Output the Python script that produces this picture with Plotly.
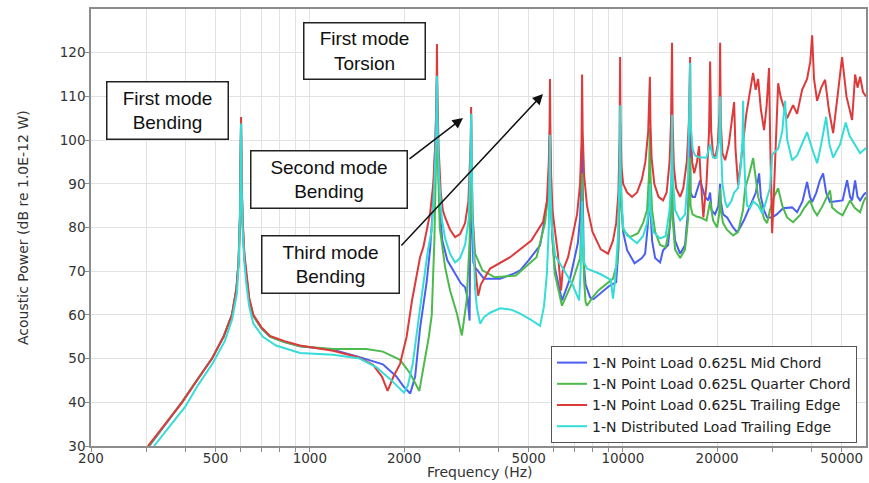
import math
import plotly.graph_objects as go

# ---------------- data ----------------
freq_mid = [307, 390, 435, 487, 530, 564, 583, 592, 598, 601, 603, 605.5, 610, 618, 626, 640, 660, 700, 746, 830, 931,
            1186, 1433, 1712, 1890, 1994, 2093, 2170, 2250, 2360, 2422, 2470, 2520, 2548, 2560, 2600, 2650, 2750, 2911, 3040, 3133, 3190, 3240, 3262, 3275, 3290, 3330, 3373,
            3600, 4054, 4500, 4698, 5000, 5440, 5640, 5780, 5830, 5850, 5870, 5950, 6060, 6390, 6780, 7180, 7300, 7370, 7410, 7440, 7500, 7600, 7860, 8060, 8500, 9000, 9520, 9680, 9760, 9800,
            9840, 10020, 10320, 10900, 11500, 11780, 12000, 12150, 12200, 12250, 12400, 12680, 13150, 13440, 13950, 14200, 14360,
            14420, 14680, 15240, 15800, 16160, 16400, 16450, 16700, 17000, 17660, 18300, 18720, 19000, 19200, 19700, 20200, 20450,
            20550, 20900, 21530, 22500, 23170, 23700, 24500, 25500, 26600, 27250, 27600, 28200, 28900, 29980, 31000, 32500, 34720, 36020, 37500, 38770, 39600, 40240,
            41500, 42600, 43620, 44600, 45900, 48000, 50350, 52040, 53200, 54000, 55200, 56200, 57270, 58800, 59800]
db_mid = [30, 40, 45, 50, 55, 60, 66, 72, 82, 92, 104, 91, 81, 73, 69.5, 63.5, 59.8, 57, 55, 53.8, 52.8,
          52, 50.4, 48.7, 45.9, 43.6, 42, 45.9, 57, 67.3, 75, 84, 100, 114.5, 100, 84, 77, 72.5, 69.5, 67.2, 66.3, 64, 58.7, 80, 106, 82, 72, 70.9,
          68.3, 68.3, 69.5, 70.2, 72.5, 75.9, 82.3, 88, 95, 101, 90, 78, 70.9, 63.3, 68.3, 76.4, 82, 90, 100, 86, 72, 67, 64, 63.6, 65, 66.5, 67.5, 75, 88, 104,
          88, 79, 74.8, 71.8, 73, 74, 80, 86, 91.6, 84, 77, 73, 72, 74.8, 76, 82, 95,
          84, 77, 74, 76, 84, 101.6, 88, 87, 87, 90.8, 87, 86.2, 88, 84, 83, 85, 90,
          86, 83, 82.3, 80, 78.9, 80, 82, 85, 88, 92.4, 87, 84, 82.3, 82.3, 83, 84.4, 84.6, 83.5, 86, 90.4, 87, 85.8,
          88, 90.8, 92.4, 88, 85.8, 86, 86.2, 90.8, 87, 86.2, 90.8, 87, 86.2, 87.5, 88]

freq_quarter = [306, 390, 435, 487, 530, 564, 583, 592, 598, 601, 603, 605.5, 610, 618, 626, 640, 660, 700, 746, 830, 931,
                1186, 1515, 1712, 1942, 2093, 2238, 2336, 2400, 2452, 2500, 2530, 2548, 2560, 2600, 2705, 2806, 2950, 3060, 3170, 3240, 3265, 3275, 3290, 3373,
                3560, 3900, 4550, 5300, 5640, 5780, 5830, 5850, 5870, 5950, 6060, 6390, 6870, 7300, 7370, 7410, 7450, 7520, 7600, 7680, 8000, 8350, 9300, 9600, 9720, 9780, 9800,
                9840, 10020, 10540, 11180, 11600, 11950, 12120, 12200, 12250, 12400, 12680, 13150, 13700, 14100, 14260, 14360,
                14420, 14680, 15240, 15800, 16160, 16400, 16450, 16700, 17200, 17660, 18500, 19000, 19420, 20000, 20300, 20450,
                20550, 20900, 21500, 22500, 23340, 24200, 24580, 25300, 26070, 26500, 27050, 27440, 28260, 28900, 29500, 30400, 31340, 32300, 33460, 34980, 36800, 38000, 39620,
                40700, 41740, 43500, 45900, 46600, 48500, 50350, 51800, 53200, 55000, 57270, 58800, 59800]
db_quarter = [30, 40, 45, 50, 55, 60, 66, 72, 82, 92, 104, 91, 81, 73, 69.5, 63.5, 59.8, 57, 55, 53.8, 52.8,
              52.2, 52.2, 51.6, 49.7, 46.6, 42.6, 50.3, 55, 60, 77, 95, 114.5, 98, 80, 70.9, 65.6, 60.3, 55.3, 63.3, 77, 92, 106, 85, 74,
              70.2, 68.6, 69, 73.2, 81, 88, 95, 101, 90, 78, 69.5, 62.1, 67.2, 73, 80, 92.4, 78, 68, 63, 62.1, 64, 65.6, 68.3, 72, 80, 92, 104,
              88, 79.4, 77.8, 78.7, 81, 84, 92, 102.8, 92, 84, 79, 76, 75.5, 80, 86, 94,
              82, 75, 73, 75, 82, 96, 85, 83, 82.5, 82.3, 81.6, 86, 81.6, 80, 83, 89,
              84, 81, 79.5, 78.2, 79, 84, 89, 92, 95.9, 92, 87, 85.5, 82, 81, 84, 87, 89, 85, 82.3, 81.2, 82.8, 84.5, 86.2,
              84, 82.8, 85, 88.5, 84.6, 83.5, 82.8, 84.5, 86.2, 84.5, 83.5, 86, 87]

freq_trailing = [304, 391, 436, 487, 530, 564, 583, 592, 598, 601, 603, 605.5, 610, 618, 626, 640, 660, 700, 746, 830, 931,
                 1186, 1427, 1591, 1700, 1772, 1850, 1942, 2038, 2122, 2250, 2305, 2422, 2480, 2520, 2540, 2548, 2556, 2580, 2620, 2660, 2705, 2806, 2911, 3020, 3133, 3210, 3250, 3268, 3275,
                 3282, 3310, 3360, 3450, 3520, 3766, 4364, 5100, 5560, 5720, 5800, 5835, 5850, 5865, 5900, 5960, 6050, 6200, 6348, 6420, 6684, 7140, 7300, 7380, 7410,
                 7440, 7520, 7680, 8000, 8500, 8970, 9300, 9520, 9680, 9760, 9800, 9830, 9900, 10020, 10320, 10700, 11100, 11500, 11800, 12050, 12150, 12200,
                 12250, 12350, 12600, 13000, 13440, 13800, 14100, 14250, 14360, 14420, 14550, 14800, 15240, 15600, 16000, 16250, 16400,
                 16450, 16650, 16900, 17250, 17520, 17700, 18080, 18500, 18850, 19000, 19150, 19400, 19720, 20100, 20350, 20450,
                 20550, 20800, 21220, 21800, 22300, 22670, 22900, 23340, 24000, 24800, 25600, 26070, 26550, 27050, 27600, 28260, 28800, 29310, 29550, 29800, 29980,
                 30300, 30800, 31340, 31900, 32500, 33460, 34980, 36020, 37380, 38770, 39700, 40240, 40800, 41740, 43000, 44260, 45500, 46960, 48500, 50150, 51800,
                 54000, 55200, 56200, 57270, 58500, 59800]
db_trailing = [30, 40, 45, 50, 55, 60, 66, 72, 82, 92, 105.3, 92, 82, 74, 70, 64, 60, 57.2, 55.2, 54, 53,
               51.8, 50.3, 48.6, 45.9, 42.6, 45.9, 48.8, 55, 63.4, 73.2, 75.5, 83.2, 90, 100, 110, 122, 110, 98, 88, 84, 82.3, 79.5, 77.8, 78.5, 81, 86, 94, 100, 107.6,
               97, 84, 72, 64.4, 67, 70.6, 73.2, 77, 81.3, 86, 95, 104, 114, 104, 92, 84, 80, 74, 65.6, 70, 73.2, 83, 90, 100, 115,
               102, 92, 85, 79, 75, 74, 77, 81, 88, 100, 119, 102, 94, 90, 88, 87, 88, 91, 95, 102, 108, 114.5,
               104, 96, 90, 87, 86.2, 88, 95, 104, 122.3, 104, 94, 89, 87, 89, 95, 104, 119,
               104, 95, 92.4, 95, 98.6, 92, 82.3, 90, 102, 118, 102, 97, 95.8, 99, 106, 122.3,
               104, 97, 95.4, 99, 104, 108.7, 98, 89.7, 97, 106, 112, 115.4, 111.5, 114, 107, 102.3, 108, 116.5, 100, 85, 78.7,
               86, 98, 113, 110, 108, 105, 108, 106, 111.5, 114, 118, 124, 114, 109, 112, 113.8, 107, 101.6, 110, 119, 110,
               104.6, 115, 112, 114.5, 111, 110]

freq_distributed = [318, 400, 440, 490, 535, 565, 585, 593, 599, 601.5, 603, 605.5, 610, 618, 626, 640, 660, 708, 780, 931,
                    1186, 1433, 1634, 1805, 1942, 2000, 2060, 2131, 2268, 2384, 2452, 2500, 2530, 2548, 2556, 2585, 2640, 2705, 2806, 2911, 3020, 3133, 3220, 3255, 3268, 3275,
                    3282, 3310, 3373, 3420, 3500, 3600, 3766, 4054, 4400, 4700, 5055, 5440, 5600, 5720, 5800, 5835, 5850, 5865, 5930, 6075, 6500, 6900, 7250, 7330, 7380, 7410, 7440, 7520,
                    7680, 8500, 9150, 9300, 9450, 9650, 9760, 9800, 9850, 10020, 10320, 11100, 11600, 11950, 12150, 12200, 12250, 12500, 13150, 13700, 14100, 14300, 14360,
                    14420, 14680, 15240, 15800, 16160, 16400, 16450, 16700, 17000, 17660, 18500, 19000, 19400, 19900, 20300, 20450,
                    20550, 20800, 21220, 21530, 22200, 22670, 23340, 23800, 24100, 24220, 24350, 24600, 24950, 25500, 26070, 27050, 27850, 28400, 28900, 29500, 30000,
                    31340, 32300, 32980, 33500, 34720, 36020, 37380, 38770, 40240, 41740, 43000, 44600, 45700, 46960, 49400, 51500, 53000, 54500, 57270, 59800]
db_distributed = [30, 39, 44, 49, 54, 59, 65, 72, 84, 94, 103.8, 90, 80, 72, 67.5, 62, 58, 55, 53, 51.3,
                  50.9, 50.1, 48, 45.3, 43, 42.2, 44, 48.7, 63.4, 74.8, 79.4, 90, 100, 114.7, 106, 92, 82, 77.5, 74, 72, 73, 76, 82, 92, 99, 106,
                  96, 82, 66, 61.5, 58, 59.5, 60.5, 61.5, 61.2, 60.3, 59, 57.5, 62, 69.5, 80, 90, 101.2, 90, 80, 73.6, 70, 67, 63.3, 70, 78, 86, 80, 72,
                  70.6, 69.3, 68, 63.7, 68, 78, 92, 108, 90, 80, 78.2, 76.4, 78, 81, 85, 90, 84, 79, 77.5, 78, 84, 92, 105.8,
                  92, 84, 81.6, 83, 92, 117.7, 104, 98, 96.5, 96, 96, 99, 96, 96, 100, 110,
                  100, 90, 86, 84.6, 86, 88, 89, 94, 100, 109, 98, 90, 85, 84.5, 86, 85, 83.3, 85, 87, 89, 96.7,
                  98, 102, 109, 100, 95.4, 96.5, 99, 101.8, 98, 94.7, 99, 105.3, 99, 96, 99, 104, 101, 99.5, 97, 98.2]

series_names = ["1-N Point Load 0.625L Mid Chord",
                "1-N Point Load 0.625L Quarter Chord",
                "1-N Point Load 0.625L Trailing Edge",
                "1-N Distributed Load Trailing Edge"]
series_colors = ["#4a5ff0", "#4cba4c", "#dd3b3b", "#35dcd8"]

x_tickvals = [200, 300, 400, 500, 600, 700, 800, 900,
              1000, 2000, 3000, 4000, 5000, 6000, 7000, 8000, 9000,
              10000, 20000, 30000, 40000, 50000]
x_ticktext = ["200", "", "", "500", "", "", "", "",
              "1000", "2000", "", "", "5000", "", "", "", "",
              "10000", "20000", "", "", "50000"]
y_tickvals = [30, 40, 50, 60, 70, 80, 90, 100, 110, 120]

# ---------------- figure ----------------
fig = go.Figure()
for fx, fy, name, col in zip([freq_mid, freq_quarter, freq_trailing, freq_distributed],
                             [db_mid, db_quarter, db_trailing, db_distributed],
                             series_names, series_colors):
    fig.add_trace(go.Scatter(x=fx, y=fy, mode="lines", name=name,
                             line=dict(color=col, width=2)))

W, H = 869, 483
L, R, T, B = 91, 3, 9, 37
pw, ph = W - L - R, H - T - B


def px(xp):
    return (xp - L) / pw


def py(yp):
    return (H - B - yp) / ph


axis_col = "#8c8c8c"
grid_col = "#e2e2e2"
tick_font = dict(family="DejaVu Sans", size=13.5, color="#333333")
x_range = [math.log10(200), math.log10(59800)]

fig.update_layout(
    width=W, height=H,
    margin=dict(l=L, r=R, t=T, b=B, autoexpand=False),
    paper_bgcolor="white", plot_bgcolor="white",
    showlegend=True,
    legend=dict(x=px(551), y=py(346), xanchor="left", yanchor="top",
                bgcolor="white", bordercolor="#555555", borderwidth=1,
                font=dict(family="DejaVu Sans", size=14, color="#222222"),
                tracegroupgap=0, itemwidth=30),
    xaxis=dict(type="log", range=x_range,
               tickvals=x_tickvals, ticktext=x_ticktext, automargin=False,
               tickangle=0, ticklabelstandoff=-5,
               showgrid=True, gridcolor=grid_col, gridwidth=1,
               showline=True, linecolor=axis_col, linewidth=1.5, mirror=True,
               ticks="outside", ticklen=4, tickcolor=axis_col,
               tickfont=tick_font, zeroline=False),
    yaxis=dict(range=[30, 130], tickvals=y_tickvals, automargin=False,
               ticklabelstandoff=-3,
               showgrid=True, gridcolor=grid_col, gridwidth=1,
               showline=True, linecolor=axis_col, linewidth=1.5, mirror=True,
               ticks="outside", ticklen=4, tickcolor=axis_col,
               tickfont=tick_font, zeroline=False),
    xaxis2=dict(type="log", range=x_range, overlaying="x", side="top",
                tickvals=x_tickvals, showticklabels=False, automargin=False,
                showgrid=False, zeroline=False, showline=False,
                ticks="inside", ticklen=4, tickcolor=axis_col),
    yaxis2=dict(range=[30, 130], overlaying="y", side="right",
                tickvals=y_tickvals, showticklabels=False, automargin=False,
                showgrid=False, zeroline=False, showline=False,
                ticks="inside", ticklen=4, tickcolor=axis_col),
)

title_font = dict(family="DejaVu Sans", size=14, color="#333333")
fig.add_annotation(text="Frequency (Hz)", xref="paper", yref="paper",
                   x=px(480), y=py(472), xanchor="center", yanchor="middle",
                   showarrow=False, font=title_font)
fig.add_annotation(text="Acoustic Power (dB re 1.0E-12 W)", xref="paper", yref="paper",
                   x=px(23), y=py(228), xanchor="center", yanchor="middle",
                   textangle=-90, showarrow=False, font=title_font)

box_font = dict(family="Liberation Sans, Arial", size=19, color="#111111")
boxes = [
    ("First mode<br>Bending", 167, 110, 122, 58),
    ("First mode<br>Torsion", 364, 51.5, 122, 57),
    ("Second mode<br>Bending", 328.5, 179, 157, 58),
    ("Third mode<br>Bending", 330, 264, 138, 58),
]
for text, cx, cy, bw, bh in boxes:
    fig.add_annotation(text=text, xref="paper", yref="paper", x=px(cx), y=py(cy),
                       xanchor="center", yanchor="middle", showarrow=False,
                       width=bw - 4, height=bh - 4, borderpad=1,
                       bgcolor="white", bordercolor="#222222", borderwidth=1.5,
                       font=box_font, align="center", valign="middle")

arrows = [((408, 160), (463, 118)), ((400, 247), (543, 94))]
for (tx, ty), (hx, hy) in arrows:
    fig.add_annotation(text="", xref="paper", yref="paper", x=px(hx), y=py(hy),
                       ax=tx - hx, ay=ty - hy, showarrow=True,
                       arrowhead=2, arrowsize=1.4, arrowwidth=1.5, arrowcolor="#111111",
                       standoff=0, startstandoff=0)

fig.write_html("out.html", config={"displayModeBar": False},
               post_script="document.body.style.margin='0px';document.body.style.overflow='hidden';")
